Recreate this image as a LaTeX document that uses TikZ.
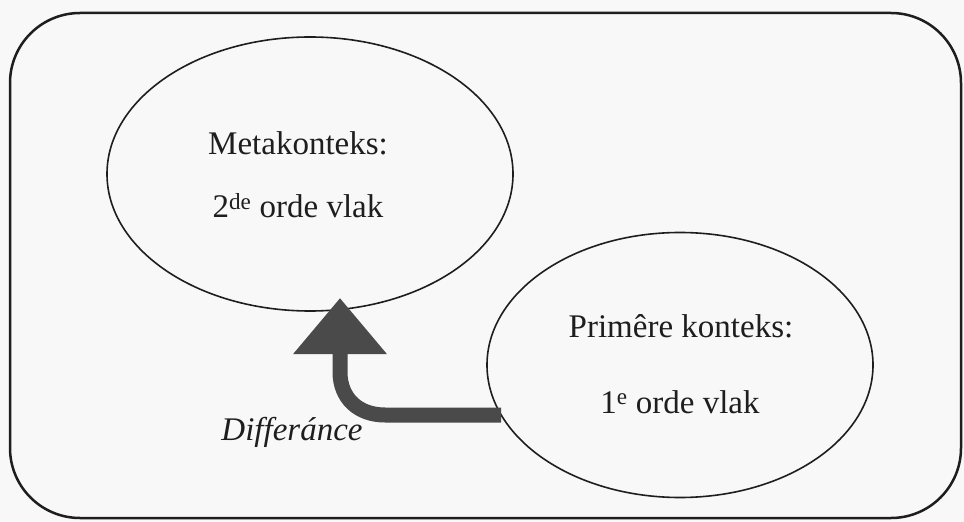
\documentclass[tikz,border=0pt]{standalone}
\usepackage{fontspec}
\setmainfont{Liberation Serif}
\usetikzlibrary{shapes.geometric,arrows.meta}
\definecolor{ink}{HTML}{1E1E1E}
\definecolor{arrowgray}{HTML}{4A4A4A}
\definecolor{paper}{HTML}{F8F8F8}
\tikzset{
  frame/.style={draw=ink, line width=2.5bp, rounded corners=70bp},
  context/.style={ellipse, draw=ink, line width=1.6bp, inner sep=0pt},
  txt/.style={anchor=base, text=ink, font=\fontsize{33bp}{36bp}\selectfont, inner sep=0pt},
  shiftarrow/.style={draw=arrowgray, line width=15bp,
    -{Triangle[width=90bp, length=56bp, fill=arrowgray]}}
}
\begin{document}
\begin{tikzpicture}[x=1bp, y=-1bp]
  \useasboundingbox (0,0) rectangle (964,522);
  \fill[paper] (0,0) rectangle (964,522);

  % outer frame
  \draw[frame] (10,13) rectangle (961,518);

  % the two context planes
  \node[context, minimum width=406bp, minimum height=274bp] (meta) at (310,174) {};
  \node[context, minimum width=386bp, minimum height=265bp] (prim) at (680,365) {};

  % texts
  \node[txt] (metaA) at (298,155) {Metakonteks:};
  \node[txt] (metaB) at (298,218) {2\textsuperscript{de} orde vlak};
  \node[txt] (primA) at (681,338) {Primêre konteks:};
  \node[txt] (primB) at (680,413) {1\textsuperscript{e} orde vlak};
  \node[txt, font=\fontsize{33bp}{36bp}\selectfont\itshape] (diff) at (292,440) {Differánce};

  % curved arrow from the primary plane up to the meta plane
  \coordinate (start) at (501,415);
  \coordinate (bendA) at (385,415);
  \coordinate (bendB) at (340,372);
  \coordinate (tip) at (340,298);
  \draw[shiftarrow] (start) -- (bendA) .. controls (358,415) and (340,398) .. (bendB) -- (tip);
\end{tikzpicture}
\end{document}
